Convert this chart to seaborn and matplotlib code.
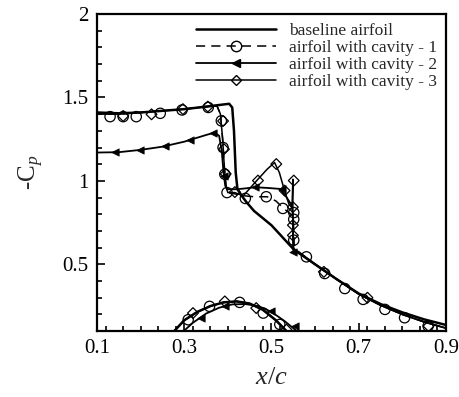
import numpy as np
import pandas as pd
import seaborn as sns
import matplotlib.pyplot as plt
from matplotlib.lines import Line2D
from matplotlib.ticker import MultipleLocator

# ---- data (x/c, -Cp) ----
# baseline airfoil
base_up_x = [0.09, 0.10, 0.15, 0.20, 0.25, 0.30, 0.35, 0.39, 0.403, 0.410, 0.414, 0.418, 0.422, 0.432,
             0.4425, 0.46, 0.50, 0.549, 0.60, 0.65, 0.70, 0.75, 0.80, 0.85, 0.91]
base_up_y = [1.41, 1.41, 1.405, 1.41, 1.42, 1.43, 1.445, 1.458, 1.462, 1.44, 1.30, 1.05, 0.95, 0.91,
             0.873, 0.82, 0.734, 0.595, 0.50, 0.41, 0.325, 0.262, 0.212, 0.17, 0.13]
base_lo_x = [0.27, 0.30, 0.33, 0.36, 0.39, 0.42, 0.45, 0.48, 0.51, 0.54]
base_lo_y = [0.08, 0.165, 0.215, 0.25, 0.272, 0.278, 0.265, 0.228, 0.165, 0.085]

# airfoil with cavity - 1
cav1_up_x = [0.09, 0.10, 0.15, 0.20, 0.25, 0.30, 0.35, 0.375, 0.383, 0.388, 0.392, 0.396, 0.40,
             0.42, 0.44, 0.46, 0.49, 0.51, 0.53, 0.545, 0.550, 0.551, 0.552, 0.56, 0.60, 0.65,
             0.70, 0.75, 0.80, 0.85, 0.91]
cav1_up_y = [1.40, 1.40, 1.40, 1.41, 1.42, 1.43, 1.445, 1.45, 1.40, 1.25, 1.08, 0.96, 0.93,
             0.92, 0.91, 0.905, 0.905, 0.88, 0.83, 0.80, 0.78, 0.70, 0.62, 0.58, 0.50, 0.41,
             0.322, 0.255, 0.20, 0.155, 0.11]
cav1_lo_x = base_lo_x
cav1_lo_y = base_lo_y
cav1_mx = [0.13, 0.16, 0.19, 0.245, 0.295, 0.355, 0.385, 0.389, 0.393, 0.398, 0.44, 0.488, 0.526,
           0.551, 0.551, 0.551, 0.58, 0.622, 0.668, 0.71, 0.76, 0.805, 0.859,
           0.309, 0.358, 0.427, 0.481, 0.519]
cav1_my = [1.385, 1.385, 1.385, 1.405, 1.425, 1.44, 1.36, 1.20, 1.04, 0.93, 0.895, 0.905, 0.835,
           0.81, 0.77, 0.645, 0.545, 0.445, 0.355, 0.29, 0.23, 0.18, 0.13,
           0.168, 0.248, 0.272, 0.208, 0.14]

# airfoil with cavity - 2
cav2_up_x = [0.09, 0.10, 0.15, 0.20, 0.25, 0.30, 0.35, 0.37, 0.38, 0.386, 0.390, 0.394, 0.40,
             0.42, 0.44, 0.462, 0.49, 0.52, 0.535, 0.546, 0.549, 0.550, 0.56, 0.60, 0.65,
             0.70, 0.75, 0.80, 0.85, 0.91]
cav2_up_y = [1.17, 1.17, 1.172, 1.186, 1.205, 1.235, 1.275, 1.29, 1.27, 1.18, 1.05, 0.97, 0.95,
             0.95, 0.955, 0.962, 0.958, 0.952, 0.90, 0.855, 0.80, 0.576, 0.57, 0.50, 0.41,
             0.322, 0.255, 0.20, 0.155, 0.11]
cav2_lo_x = [0.29, 0.32, 0.35, 0.38, 0.41, 0.44, 0.47, 0.50, 0.53, 0.565]
cav2_lo_y = [0.08, 0.15, 0.205, 0.24, 0.26, 0.262, 0.25, 0.215, 0.16, 0.085]
cav2_mx = [0.142, 0.198, 0.255, 0.313, 0.366, 0.391, 0.462, 0.523, 0.549,
           0.339, 0.393, 0.50, 0.553]
cav2_my = [1.171, 1.186, 1.21, 1.244, 1.29, 1.03, 0.962, 0.952, 0.576,
           0.179, 0.248, 0.218, 0.129]

# airfoil with cavity - 3
cav3_up_x = [0.09, 0.10, 0.15, 0.20, 0.25, 0.30, 0.35, 0.375, 0.383, 0.388, 0.392, 0.396, 0.40,
             0.416, 0.435, 0.469, 0.490, 0.507, 0.518, 0.53, 0.540, 0.547, 0.549, 0.549, 0.551,
             0.56, 0.60, 0.65, 0.70, 0.75, 0.80, 0.85, 0.91]
cav3_up_y = [1.40, 1.40, 1.40, 1.41, 1.42, 1.43, 1.445, 1.45, 1.40, 1.25, 1.08, 0.96, 0.93,
             0.93, 0.91, 1.01, 1.07, 1.11, 1.05, 0.94, 0.86, 0.84, 1.01, 0.65, 0.59,
             0.575, 0.50, 0.41, 0.322, 0.255, 0.20, 0.155, 0.11]
cav3_lo_x = base_lo_x
cav3_lo_y = base_lo_y
cav3_mx = [0.16, 0.225, 0.297, 0.354, 0.389, 0.391, 0.395, 0.416, 0.469, 0.511, 0.53,
           0.551, 0.549, 0.549, 0.549, 0.62, 0.72, 0.86,
           0.32, 0.393, 0.465, 0.534]
cav3_my = [1.389, 1.399, 1.43, 1.445, 1.359, 1.19, 1.042, 0.933, 1.002, 1.101, 0.942,
           1.002, 0.843, 0.735, 0.674, 0.455, 0.30, 0.13,
           0.208, 0.278, 0.238, 0.109]

labels = ["baseline airfoil", "airfoil with cavity - 1",
          "airfoil with cavity - 2", "airfoil with cavity - 3"]


def frame(ux, uy, lx, ly):
    return pd.DataFrame({
        "x": ux + lx,
        "y": uy + ly,
        "surface": ["upper"] * len(ux) + ["lower"] * len(lx),
    })


sns.set_style("ticks")
plt.rcParams["font.family"] = ["Liberation Serif", "DejaVu Serif"]
plt.rcParams["mathtext.fontset"] = "custom"
plt.rcParams["mathtext.rm"] = "Liberation Serif"
plt.rcParams["mathtext.it"] = "Liberation Serif:italic"

fig = plt.figure(figsize=(4.59, 3.97), dpi=100)
ax = fig.add_axes([0.2113, 0.166, 0.7604, 0.7987])

line_kw = dict(x="x", y="y", units="surface", estimator=None, sort=False,
               color="black", ax=ax, legend=False)

sns.lineplot(data=frame(base_up_x, base_up_y, base_lo_x, base_lo_y), linewidth=1.8, **line_kw)
sns.lineplot(data=frame(cav1_up_x, cav1_up_y, cav1_lo_x, cav1_lo_y), linewidth=1.1,
             linestyle=(0, (6, 4)), **line_kw)
sns.lineplot(data=frame(cav2_up_x, cav2_up_y, cav2_lo_x, cav2_lo_y), linewidth=1.3, **line_kw)
sns.lineplot(data=frame(cav3_up_x, cav3_up_y, cav3_lo_x, cav3_lo_y), linewidth=1.1, **line_kw)

sns.scatterplot(x=cav1_mx, y=cav1_my, marker="o", s=55, facecolors="none",
                edgecolor="black", linewidth=0.9, ax=ax, zorder=3)
sns.scatterplot(x=cav2_mx, y=cav2_my, marker="<", s=28, color="black",
                edgecolor="black", linewidth=0.5, ax=ax, zorder=3)
sns.scatterplot(x=cav3_mx, y=cav3_my, marker="D", s=30, facecolors="none",
                edgecolor="black", linewidth=0.9, ax=ax, zorder=3)

ax.set_xlim(0.1, 0.9)
ax.set_ylim(0.1, 2.0)
ax.set_xticks([0.1, 0.3, 0.5, 0.7, 0.9])
ax.set_xticklabels(["0.1", "0.3", "0.5", "0.7", "0.9"])
ax.set_yticks([0.5, 1, 1.5, 2])
ax.set_yticklabels(["0.5", "1", "1.5", "2"])
ax.xaxis.set_minor_locator(MultipleLocator(0.04))
ax.yaxis.set_minor_locator(MultipleLocator(0.1))
ax.tick_params(which="both", direction="in", top=False, right=False,
               labelsize=15, width=1.2, colors="black")
ax.tick_params(which="major", length=6, pad=6)
ax.tick_params(which="minor", length=3.5)
for sp in ax.spines.values():
    sp.set_visible(True)
    sp.set_linewidth(1.6)
    sp.set_color("black")

ax.set_xlabel("$x/c$", fontsize=19, labelpad=6)
ax.set_ylabel("-C$_{\\mathit{p}}$", fontsize=18, labelpad=12)

handles = [
    Line2D([], [], color="black", linewidth=1.8),
    Line2D([], [], color="black", linewidth=1.1, linestyle=(0, (6, 4)), marker="o",
           markerfacecolor="none", markeredgecolor="black", markersize=7.5),
    Line2D([], [], color="black", linewidth=1.3, marker="<", markersize=5.5),
    Line2D([], [], color="black", linewidth=1.1, marker="D",
           markerfacecolor="none", markeredgecolor="black", markersize=5.5),
]
ax.legend(handles, labels, loc="upper right", bbox_to_anchor=(1.0, 1.0),
          frameon=False, fontsize=12.5, handlelength=4.6, handletextpad=0.75,
          labelspacing=0.05, borderaxespad=0.2, borderpad=0.3, numpoints=1)

plt.savefig("out.png", dpi=100)
